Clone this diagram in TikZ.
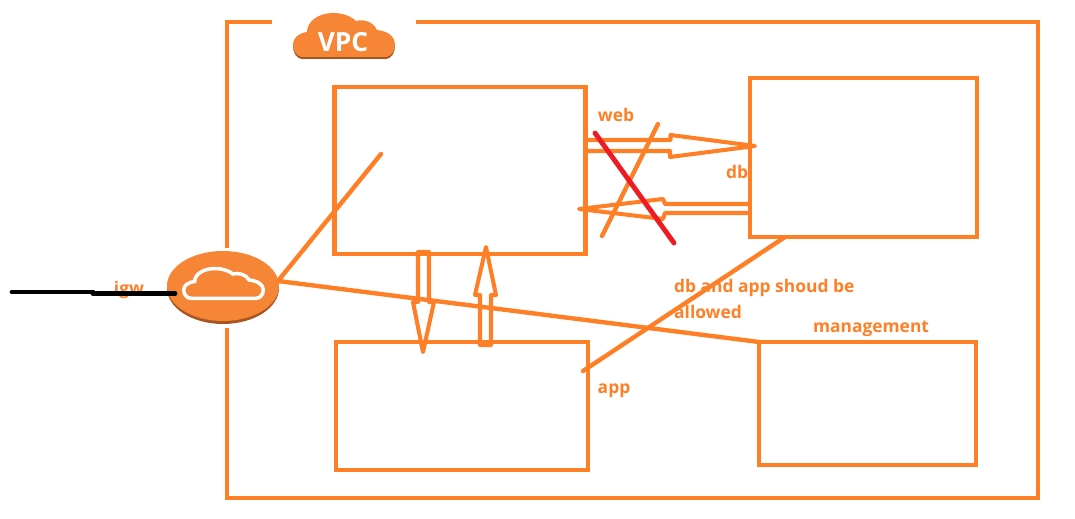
\documentclass[tikz,border=0pt]{standalone}
\usepackage{fontspec}
\setmainfont{Open Sans}
\usetikzlibrary{shapes.geometric}
\definecolor{paintorange}{HTML}{FF7F27}
\definecolor{awsorange}{HTML}{F68536}
\definecolor{awsbrown}{HTML}{A8561F}
\definecolor{paintred}{HTML}{ED1C24}

\begin{document}
\begin{tikzpicture}[
    x=0.02cm, y=-0.02cm,
    line width=2.5pt,
    box/.style={rectangle, draw=paintorange, outer sep=0pt, inner sep=0pt},
    stroke/.style={draw=paintorange, line cap=round, line join=round},
    blockarrow/.style={stroke, line width=2.3pt},
    label/.style={text=paintorange, font=\fontsize{9.9}{14.7}\selectfont\bfseries, inner sep=0pt, align=left},
    cloudshape/.pic={\path[pic actions] (-41,22) .. controls (-48,22) and (-51,15) .. (-51,9) .. controls (-51,3) and (-45,-2) .. (-37,-3) .. controls (-37,-14) and (-25,-22) .. (-11,-22) .. controls (-2,-22) and (7,-19) .. (12,-14) .. controls (18,-16) and (29,-14) .. (33,-5) .. controls (44,-4) and (51,2) .. (51,9) .. controls (51,15) and (48,22) .. (41,22) -- cycle;}
]
\useasboundingbox (0,0) rectangle (1075,519);
% frame, open at the VPC cloud and at the gateway
\draw[paintorange, line join=miter] (272,22) -- (227,22) -- (227,248);
\draw[paintorange, line join=miter] (416,22) -- (1038,22) -- (1038,498) -- (227,498) -- (227,328);
\pic[fill=awsbrown] at (344,37) {cloudshape};
\pic[fill=awsorange] at (344,35) {cloudshape};
\node[text=white, font=\fontsize{15}{15}\selectfont\bfseries, inner sep=0pt] (vpc) at (343,42) {VPC};
% subnets
\node[box, minimum width=251*0.02cm, minimum height=167*0.02cm] (web) at (460,170.5) {};
\node[box, minimum width=227*0.02cm, minimum height=159*0.02cm] (db) at (863.5,157.5) {};
\node[box, minimum width=252*0.02cm, minimum height=128*0.02cm] (app) at (462,406) {};
\node[box, minimum width=217*0.02cm, minimum height=123*0.02cm] (mgmt) at (867.5,403.5) {};
% gateway
\node[ellipse, fill=awsbrown, minimum width=112*0.02cm, minimum height=72*0.02cm, inner sep=0pt, outer sep=0pt] (igwbase) at (223,288) {};
\node[ellipse, fill=awsorange, minimum width=112*0.02cm, minimum height=70*0.02cm, inner sep=0pt, outer sep=0pt] (igw) at (223,286) {};
\pic[draw=white, line width=2pt, xscale=0.78, yscale=0.68] at (223.5,283.5) {cloudshape};
\node[label] (igwtext) at (129,290) {igw};
% connectors
\coordinate (webend) at (381,154);
\coordinate (dbfoot) at (785,237);
\coordinate (appfoot) at (583,371);
\coordinate (igwout) at (278,281);
\draw[stroke] (igwout) -- (webend);
\draw[stroke] (igwout) -- (mgmt.north west);
\draw[stroke] (dbfoot) -- (appfoot);
% block arrows
\coordinate (webdbtip) at (755,146);
\coordinate (dbwebtip) at (579,209);
\coordinate (webapptip) at (423,352);
\coordinate (appwebtip) at (486,247);
\draw[blockarrow] (web.east |- webdbtip) ++(0,-6) -- ++(85,0) -- ++(0,-5) -- (webdbtip) -- ++(-85,11) -- ++(0,-6) -- ++(-85,0);
\draw[blockarrow] (db.west |- dbwebtip) ++(0,-5) -- ++(-85,0) -- ++(-2,-5) -- (dbwebtip) -- ++(84,10) -- ++(2,-6) -- ++(85,0);
\draw[blockarrow] (webapptip |- web.south) ++(-5,-2) -- ++(0,50) -- ++(-5,0) -- (webapptip) -- ++(11,-50) -- ++(-5,0) -- ++(0,-50) -- cycle;
\draw[blockarrow] (appwebtip |- app.north) ++(-6,3) -- ++(0,-50) -- ++(-5,0) -- (appwebtip) -- ++(10,48) -- ++(-5,0) -- ++(0,50) -- cycle;
% crossed out
\coordinate (crossa) at (658,124);
\coordinate (crossb) at (602,236);
\coordinate (crossc) at (595,133);
\coordinate (crossd) at (674,243);
\draw[stroke] (crossa) -- (crossb);
\draw[paintred, line width=2.8pt, line cap=round] (crossc) -- (crossd);
% outside line
\coordinate (blacka) at (12,292);
\coordinate (blackb) at (93,292);
\coordinate (blackc) at (93,293.5);
\draw[black, line width=2.8pt, line cap=round] (blacka) -- (blackb);
\draw[black, line width=2.8pt, line cap=round] (blackc) -- (igw.west |- blackc) -- ++(8,0);
% labels
\node[label] (webtext) at (616,115) {web};
\node[label] (dbtext) at (737,172) {db};
\node[label] (apptext) at (614,391) {app};
\node[label] (mgmttext) at (871,329) {management};
\node[label, anchor=north west] (allowtext) at (672,277) {db and app shoud be\\allowed};
\end{tikzpicture}
\end{document}
